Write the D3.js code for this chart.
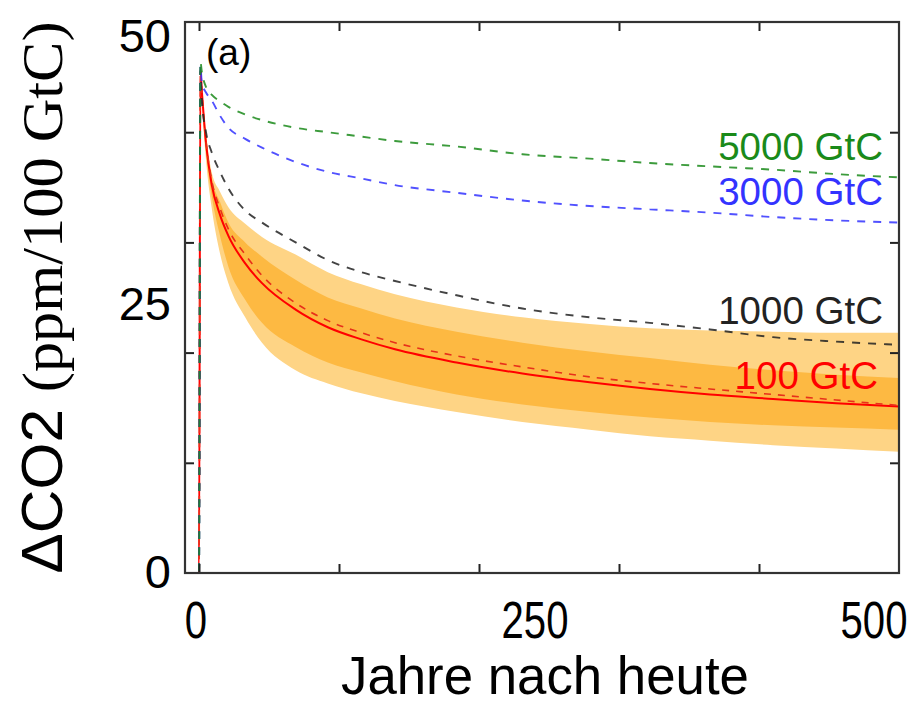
<!DOCTYPE html>
<html>
<head>
<meta charset="utf-8">
<script src="https://cdn.jsdelivr.net/npm/d3@7"></script>
<style>
  body { margin: 0; background: #fff; }
  svg text { font-family: "Liberation Sans", Arial, sans-serif; }
</style>
</head>
<body>
<svg width="920" height="706"></svg>
<script>
// years after the pulse
var years = [-10, 0, 1, 2, 5, 9, 15, 21, 33, 45, 69, 92, 116, 140, 184, 231, 279, 322, 365, 410, 455, 500];
var co2_5000 = [0, 0, 46.4, 45.5, 44.1, 43.4, 42.8, 42.3, 41.6, 41.1, 40.4, 40.0, 39.6, 39.2, 38.7, 38.0, 37.6, 37.2, 36.9, 36.6, 36.2, 35.9];
var co2_3000 = [0, 0, 46.0, 44.5, 43.6, 42.9, 41.5, 40.4, 39.4, 38.6, 37.3, 36.4, 35.8, 35.2, 34.5, 33.8, 33.3, 33.0, 32.7, 32.3, 32.0, 31.8];
var co2_1000 = [0, 0, 45.6, 43.0, 40.0, 38.2, 36.4, 34.9, 32.9, 31.8, 30.0, 28.4, 27.3, 26.5, 25.2, 24.0, 23.2, 22.7, 22.1, 21.4, 21.0, 20.7];
var co2_100  = [0, 0, 45.6, 43.8, 39.0, 35.3, 32.5, 30.6, 28.1, 26.3, 23.9, 22.3, 21.2, 20.3, 19.1, 18.1, 17.3, 16.7, 16.2, 15.8, 15.4, 15.1];
var co2_100b = [0, 0, 45.6, 43.8, 39.2, 35.7, 33.1, 31.2, 28.9, 27.0, 24.5, 22.9, 21.8, 20.9, 19.7, 18.7, 17.8, 17.2, 16.7, 16.2, 15.7, 15.2];

// model spread for the 100 GtC pulse
var bandYears = [1, 2, 5, 9, 15, 21, 33, 45, 69, 92, 116, 140, 184, 231, 279, 322, 365, 410, 455, 500];
var outerTop = [45.6, 44.0, 40.0, 36.4, 34.6, 33.2, 31.7, 30.5, 28.9, 27.3, 26.2, 25.3, 24.1, 23.2, 22.6, 22.2, 22.0, 21.9, 21.8, 21.8];
var innerTop = [45.6, 43.9, 39.6, 35.9, 33.7, 31.8, 30.0, 28.7, 26.6, 25.0, 24.0, 23.1, 21.9, 20.9, 20.1, 19.5, 18.9, 18.4, 18.0, 17.7];
var innerBot = [45.6, 43.3, 38.2, 34.3, 30.6, 27.8, 24.8, 22.7, 20.5, 19.1, 18.2, 17.4, 16.2, 15.3, 14.6, 14.1, 13.7, 13.4, 13.2, 13.0];
var outerBot = [45.6, 43.0, 37.5, 33.2, 29.0, 26.3, 23.2, 20.9, 18.4, 17.2, 16.3, 15.6, 14.6, 13.7, 13.0, 12.4, 12.0, 11.6, 11.3, 11.0];

var xTicks = [0, 100, 200, 300, 400];
var xLabels = [0, 250, 500];
var yTicks = [10, 20, 30, 40];
var yLabels = [0, 25, 50];

var seriesNames = ["100 GtC", "1000 GtC", "3000 GtC", "5000 GtC"];
var seriesColors = ["#ff0000", "#222222", "#3333ff", "#1a8a1a"];

var svg = d3.select("svg");
var pL = 185, pR = 899, pT = 22, pB = 573;

var x = d3.scaleLinear().domain([-10, 500]).range([pL, pR]);
var y = d3.scaleLinear().domain([0, 50]).range([pB, pT]);

svg.append("clipPath").attr("id", "clip")
  .append("rect").attr("x", pL).attr("y", pT).attr("width", pR - pL).attr("height", pB - pT);

var plot = svg.append("g").attr("clip-path", "url(#clip)");

function band(hi, lo) {
  return d3.area()
    .x(function(d, i) { return x(bandYears[i]); })
    .y0(function(d, i) { return y(lo[i]); })
    .y1(function(d, i) { return y(hi[i]); })
    .curve(d3.curveMonotoneX)(bandYears);
}
plot.append("path").attr("d", band(outerTop, outerBot)).attr("fill", "#fed485");
plot.append("path").attr("d", band(innerTop, innerBot)).attr("fill", "#fdb942");

var line = d3.line()
  .x(function(d, i) { return x(years[i]); })
  .y(function(d) { return y(d); })
  .curve(d3.curveMonotoneX);

plot.append("path").attr("d", line(co2_100)).attr("fill", "none")
  .attr("stroke", "#ff0000").attr("stroke-width", 2);
plot.append("path").attr("d", line(co2_100b)).attr("fill", "none")
  .attr("stroke", "#e8301a").attr("stroke-width", 1.6).attr("stroke-dasharray", "7,7");

[co2_1000, co2_3000, co2_5000].forEach(function(s, i) {
  plot.append("path").attr("d", line(s)).attr("fill", "none")
    .attr("stroke", seriesColors[i + 1]).attr("stroke-width", 1.9)
    .attr("stroke-dasharray", "8,8").attr("stroke-opacity", 0.85);
});

// ticks on all four sides, pointing inward
var tickLen = 9;
svg.append("g").attr("transform", "translate(0," + pB + ")")
  .call(d3.axisBottom(x).tickValues(xTicks).tickSize(-tickLen).tickFormat(""));
svg.append("g").attr("transform", "translate(0," + pT + ")")
  .call(d3.axisTop(x).tickValues(xTicks).tickSize(-tickLen).tickFormat(""));
svg.append("g").attr("transform", "translate(" + pL + ",0)")
  .call(d3.axisLeft(y).tickValues(yTicks).tickSize(-tickLen).tickFormat(""));
svg.append("g").attr("transform", "translate(" + pR + ",0)")
  .call(d3.axisRight(y).tickValues(yTicks).tickSize(-tickLen).tickFormat(""));
svg.selectAll(".domain").remove();
svg.selectAll(".tick line").attr("stroke", "#222").attr("stroke-width", 2);

svg.append("rect").attr("x", pL).attr("y", pT).attr("width", pR - pL).attr("height", pB - pT)
  .attr("fill", "none").attr("stroke", "#333").attr("stroke-width", 2.2);

// tick labels (the figure places them slightly off the tick marks)
var xLab = d3.scaleLinear().domain([0, 500]).range([x(0) - 3, x(500) - 25]);
svg.selectAll(".xl").data(xLabels).enter().append("text")
  .attr("x", function(d) { return xLab(d); })
  .attr("y", 638)
  .attr("text-anchor", "middle")
  .attr("font-size", 51)
  .attr("textLength", function(d) { return String(d).length * 22.3; })
  .attr("lengthAdjust", "spacingAndGlyphs")
  .text(function(d) { return d; });

var yLab = d3.scaleLinear().domain([0, 50]).range([y(0) - 2, y(50) + 13]);
svg.selectAll(".yl").data(yLabels).enter().append("text")
  .attr("x", 171)
  .attr("y", function(d) { return yLab(d); })
  .attr("dy", "0.36em")
  .attr("text-anchor", "end")
  .attr("font-size", 47)
  .text(function(d) { return d; });

svg.append("text")
  .attr("x", 545)
  .attr("y", 694)
  .attr("text-anchor", "middle")
  .attr("font-size", 54)
  .attr("textLength", 408)
  .attr("lengthAdjust", "spacingAndGlyphs")
  .text("Jahre nach heute");

var yt = svg.append("text")
  .attr("transform", "translate(62," + (pB + pT) / 2 + ") rotate(-90)")
  .attr("text-anchor", "middle")
  .attr("font-size", 58)
  .attr("textLength", 552)
  .attr("lengthAdjust", "spacingAndGlyphs");
yt.append("tspan").text("\u0394CO2 ");
yt.append("tspan").style("font-family", "'Liberation Serif', 'Times New Roman', serif").text("(ppm/100 GtC)");

svg.append("text").attr("x", 206).attr("y", 65).attr("font-size", 37).text("(a)");

// series labels, placed near the curve around year 365
var labelVals = [co2_100, co2_1000, co2_3000, co2_5000];
var labelDy = [-5, -5, -8, -6];
svg.selectAll(".sl").data(seriesNames).enter().append("text")
  .attr("x", function(d, i) { return i === 0 ? 878 : 883; })
  .attr("y", function(d, i) { return y(labelVals[i][18]) + labelDy[i]; })
  .attr("text-anchor", "end")
  .attr("font-size", 38.5)
  .attr("fill", function(d, i) { return seriesColors[i]; })
  .text(function(d) { return d; });
</script>
</body>
</html>
